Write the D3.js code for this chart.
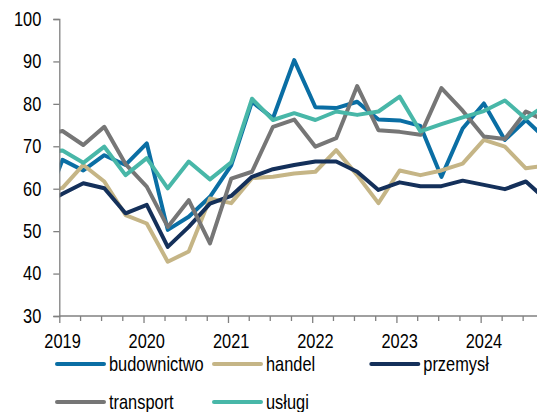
<!DOCTYPE html>
<html>
<head>
<meta charset="utf-8">
<script src="https://cdn.jsdelivr.net/npm/d3@7"></script>
<style>
  body { margin: 0; background: #fff; }
  svg text { font-family: "Liberation Sans", Arial, sans-serif; font-size: 20px; fill: #000; }
</style>
</head>
<body>
<svg id="chart" width="537" height="412"></svg>
<script>
// quarters, first one (2018 Q4) sits behind the y axis
var quarters = ["2018Q4",
  "2019Q1", "2019Q2", "2019Q3", "2019Q4",
  "2020Q1", "2020Q2", "2020Q3", "2020Q4",
  "2021Q1", "2021Q2", "2021Q3", "2021Q4",
  "2022Q1", "2022Q2", "2022Q3", "2022Q4",
  "2023Q1", "2023Q2", "2023Q3", "2023Q4",
  "2024Q1", "2024Q2", "2024Q3", "2024Q4"];

var budownictwo = [54, 66.8, 64.3, 67.9, 65.6, 70.7, 50.3, 53.4, 58.1, 65.5, 80.5, 76.6, 90.3,
  79.2, 79.0, 80.5, 76.3, 76.1, 74.8, 62.8, 74.2, 80.1, 71.5, 76.2, 71.5];
var handel = [59, 60.2, 65.6, 61.7, 53.8, 51.8, 42.8, 45.2, 57.7, 56.6, 62.5, 62.8, 63.6,
  64.0, 69.1, 63.2, 56.6, 64.3, 63.2, 64.3, 65.9, 71.5, 69.9, 64.8, 65.5];
var przemysl = [56, 58.8, 61.3, 60.1, 54.2, 56.2, 46.3, 51.0, 56.5, 58.3, 62.8, 64.6, 65.6,
  66.4, 66.4, 64.0, 59.7, 61.5, 60.6, 60.6, 61.9, 60.9, 59.9, 61.7, 57.2];
var transport = [72.5, 73.6, 70.3, 74.6, 65.8, 60.5, 51.0, 57.3, 47.1, 62.4, 64.0, 74.6, 76.3,
  69.9, 71.9, 84.2, 73.8, 73.4, 72.7, 83.7, 78.4, 72.3, 71.7, 78.2, 75.8];
var uslugi = [68.5, 69.0, 66.1, 69.9, 63.2, 67.2, 60.1, 66.4, 62.2, 66.2, 81.2, 76.2, 77.8,
  76.2, 78.2, 77.4, 78.2, 81.7, 73.5, 75.2, 76.8, 78.3, 80.8, 76.5, 80.0];

var yearLabels = ["2019", "2020", "2021", "2022", "2023", "2024"];
var yTicks = [30, 40, 50, 60, 70, 80, 90, 100];

var series = [
  { name: "budownictwo", values: budownictwo, color: "#0a6ea4" },
  { name: "handel", values: handel, color: "#c5b586" },
  { name: "przemysł", values: przemysl, color: "#14305a" },
  { name: "transport", values: transport, color: "#767676" },
  { name: "usługi", values: uslugi, color: "#48b7a8" }
];

// survey month is the middle of the first month of each quarter
function qDate(q) {
  var y = +q.slice(0, 4), n = +q.slice(5);
  return new Date(y, (n - 1) * 3, 15);
}

// no narrow font installed, so squeeze the normal one
function narrow(tx, ty) {
  return "translate(" + tx + "," + ty + ") scale(0.82,1)";
}

var svg = d3.select("#chart");
var x0 = 59.3, yTop = 19, yBot = 316;

var x = d3.scaleTime()
  .domain([new Date(2019, 0, 1), new Date(2025, 0, 1)])
  .range([x0, x0 + 6 * 84.3]);
var y = d3.scaleLinear().domain([30, 100]).range([yBot, yTop]);

svg.append("clipPath").attr("id", "plot")
  .append("rect").attr("x", x0).attr("y", 0).attr("width", 537 - x0).attr("height", yBot + 2);

var line = d3.line()
  .x(function(d, i) { return x(qDate(quarters[i])); })
  .y(function(d) { return y(d); });

svg.append("g").attr("clip-path", "url(#plot)")
  .selectAll("path").data(series).enter().append("path")
  .attr("d", function(s) { return line(s.values); })
  .attr("fill", "none")
  .attr("stroke", function(s) { return s.color; })
  .attr("stroke-width", 4)
  .attr("stroke-linejoin", "round");

// y axis
var yAxis = svg.append("g").attr("transform", "translate(" + x0 + ",0)")
  .call(d3.axisLeft(y).tickValues(yTicks).tickSize(6).tickPadding(12));
yAxis.selectAll("line, path").attr("stroke", "#808080").attr("stroke-width", 1.3);
yAxis.selectAll("text")
  .style("font-size", "20px").attr("fill", "#000")
  .attr("x", 0)
  .attr("transform", narrow(-18, 0));

// x axis: quarter ticks, longer at the year
var qTicks = d3.timeMonth.every(3).range(new Date(2019, 0, 1), new Date(2025, 3, 1));
var xAxis = svg.append("g").attr("transform", "translate(0," + yBot + ")")
  .call(d3.axisBottom(x).tickValues(qTicks).tickSize(5).tickFormat(""));
xAxis.select(".domain").attr("d", "M" + x0 + ",0H537");
xAxis.selectAll("line, path").attr("stroke", "#808080").attr("stroke-width", 1.3);
xAxis.selectAll(".tick line").attr("y2", function(d) { return d.getMonth() === 0 ? 7 : 5; });

svg.append("g").selectAll("text").data(yearLabels).enter().append("text")
  .attr("transform", function(d) { return narrow(x(new Date(+d, 0, 15)), 348); })
  .attr("text-anchor", "middle")
  .text(function(d) { return d; });

// legend, two rows
var legendPos = [[55, 364], [212, 364], [369.3, 364], [55, 402], [212, 402]];
var leg = svg.append("g").selectAll("g").data(series).enter().append("g")
  .attr("transform", function(s, i) { return "translate(" + legendPos[i][0] + "," + legendPos[i][1] + ")"; });
leg.append("line")
  .attr("x1", 2).attr("x2", 49)
  .attr("stroke", function(s) { return s.color; })
  .attr("stroke-width", 4)
  .attr("stroke-linecap", "round");
leg.append("text")
  .attr("transform", narrow(54, 6.5))
  .text(function(s) { return s.name; });
</script>
</body>
</html>
